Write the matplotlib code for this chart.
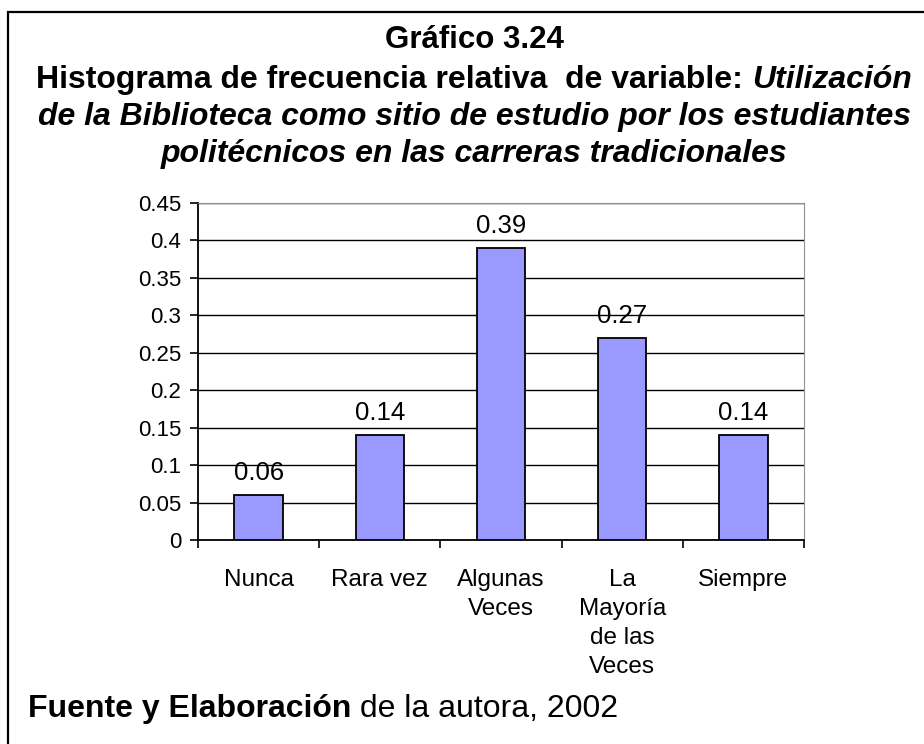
import matplotlib.pyplot as plt
from matplotlib.patches import Rectangle

plt.rcParams['font.family'] = ['Liberation Sans', 'DejaVu Sans']

categorias = ['Nunca', 'Rara vez', 'Algunas\nVeces', 'La\nMayoría\nde las\nVeces', 'Siempre']
frecuencias = [0.06, 0.14, 0.39, 0.27, 0.14]
yticks = [0, 0.05, 0.1, 0.15, 0.2, 0.25, 0.3, 0.35, 0.4, 0.45]
ytick_labels = ['0', '0.05', '0.1', '0.15', '0.2', '0.25', '0.3', '0.35', '0.4', '0.45']

W, H = 924, 744
fig = plt.figure(figsize=(W / 100, H / 100), dpi=100)

# marco exterior (se sale por la derecha y por abajo)
fig.patches.append(Rectangle((8 / W, -0.2), 1.2, 1.2 - 12 / H, transform=fig.transFigure,
                             fill=False, edgecolor='black', linewidth=1.6))

ax = fig.add_axes([198 / W, (H - 540) / H, 606 / W, 337 / H])
x = list(range(len(categorias)))
ax.bar(x, frecuencias, width=0.4, color='#9999ff', edgecolor='black', linewidth=1.3, zorder=3)
ax.set_xlim(-0.5, len(categorias) - 0.5)
ax.set_ylim(0, 0.45)
ax.set_yticks(yticks)
ax.set_yticklabels(ytick_labels, fontsize=16)
ax.yaxis.grid(True, color='black', linewidth=1)
ax.set_axisbelow(True)

ax.set_xticks([i - 0.5 for i in range(len(categorias) + 1)])
ax.set_xticklabels([])
ax.set_xticks(x, minor=True)
ax.set_xticklabels(categorias, minor=True, fontsize=17.5, linespacing=1.4, va='top')
ax.tick_params(axis='x', which='minor', length=0, pad=21)
ax.tick_params(axis='x', which='major', length=6, width=1.2, direction='out')
ax.tick_params(axis='y', length=6, width=1.2, direction='out', pad=6)

for s in ['top', 'right']:
    ax.spines[s].set_color('#909090')
for s in ['left', 'bottom']:
    ax.spines[s].set_linewidth(1.3)

for xi, v in zip(x, frecuencias):
    ax.annotate(f'{v:.2f}', (xi, v), xytext=(0, 16), textcoords='offset points',
                ha='center', va='center', fontsize=18.5)

# titulo
cx = 474 / W
fig.text(cx, 1 - 48 / H, 'Gráfico 3.24', ha='center', va='baseline', fontsize=22.5, fontweight='bold')

renderer = fig.canvas.get_renderer()
t1 = fig.text(0, 1 - 88 / H, 'Histograma de frecuencia relativa  de variable: ', ha='left', va='baseline',
              fontsize=23, fontweight='bold')
t2 = fig.text(0, 1 - 88 / H, 'Utilización', ha='left', va='baseline',
              fontsize=23, fontweight='bold', style='italic')
w1 = t1.get_window_extent(renderer).width / W
w2 = t2.get_window_extent(renderer).width / W
x0 = cx - (w1 + w2) / 2
t1.set_x(x0)
t2.set_x(x0 + w1)

fig.text(cx, 1 - 125 / H, 'de la Biblioteca como sitio de estudio por los estudiantes', ha='center',
         va='baseline', fontsize=23, fontweight='bold', style='italic')
fig.text(cx, 1 - 162 / H, 'politécnicos en las carreras tradicionales', ha='center', va='baseline',
         fontsize=23, fontweight='bold', style='italic')

# fuente
f1 = fig.text(28 / W, 1 - 717 / H, 'Fuente y Elaboración', ha='left', va='baseline', fontsize=23,
              fontweight='bold')
f2 = fig.text(0, 1 - 717 / H, ' de la autora, 2002', ha='left', va='baseline', fontsize=23)
f2.set_x(28 / W + f1.get_window_extent(renderer).width / W)

fig.savefig('out.png', dpi=100)
